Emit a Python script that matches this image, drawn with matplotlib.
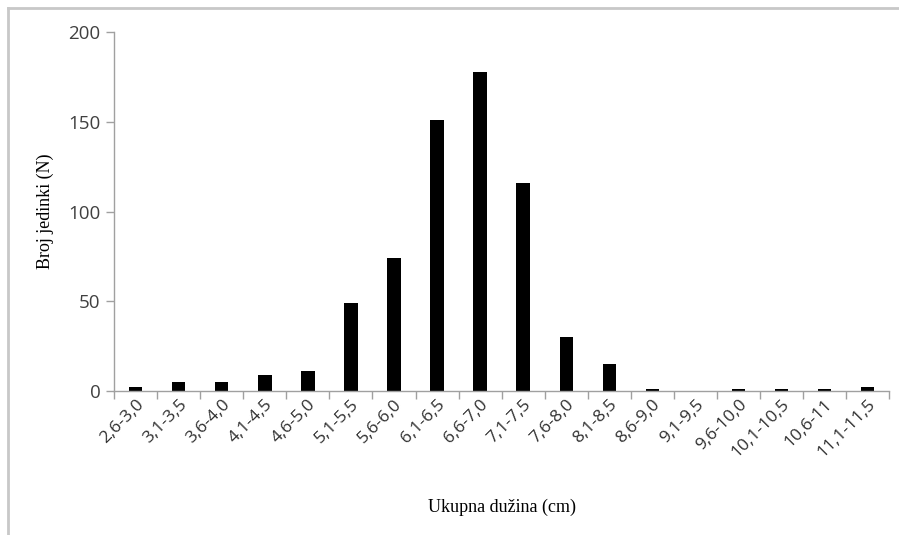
import numpy as np
import matplotlib.pyplot as plt
from matplotlib.lines import Line2D

# data
classes = ["2,6-3,0", "3,1-3,5", "3,6-4,0", "4,1-4,5", "4,6-5,0", "5,1-5,5",
           "5,6-6,0", "6,1-6,5", "6,6-7,0", "7,1-7,5", "7,6-8,0", "8,1-8,5",
           "8,6-9,0", "9,1-9,5", "9,6-10,0", "10,1-10,5", "10,6-11", "11,1-11,5"]
counts = [2, 5, 5, 9, 11, 49, 74, 151, 178, 116, 30, 15, 1, 0, 1, 1, 1, 2]

y_ticks = [0, 50, 100, 150, 200]

fig = plt.figure(figsize=(8.99, 5.35), dpi=100)
ax = fig.add_axes([0.127, 0.269, 0.862, 0.671])

x = np.arange(len(classes))
ax.bar(x, counts, width=0.31, color="black")

ax.set_xlim(-0.5, len(classes) - 0.5)
ax.set_ylim(0, 200)
ax.set_yticks(y_ticks)
ax.set_yticklabels([str(v) for v in y_ticks], fontsize=13.5, color="#404040",
                   family="Open Sans")

# x ticks at category boundaries, labels at centres
ax.set_xticks(np.arange(len(classes) + 1) - 0.5)
ax.set_xticklabels([])
ax.set_xticks(x, minor=True)
ax.set_xticklabels(classes, minor=True, rotation=45, ha="right",
                   rotation_mode="anchor", fontsize=12.5, color="#303030",
                   family="Open Sans")
ax.tick_params(axis="x", which="minor", length=0, pad=4)
ax.tick_params(axis="x", which="major", length=6, color="#a0a0a0", width=1)
ax.tick_params(axis="y", length=6, color="#a0a0a0", width=1, pad=4)

for s in ["top", "right"]:
    ax.spines[s].set_visible(False)
for s in ["left", "bottom"]:
    ax.spines[s].set_color("#a0a0a0")
    ax.spines[s].set_linewidth(1)

ax.set_ylabel("Broj jedinki (N)", family="Liberation Serif", fontsize=13,
              labelpad=10)
ax.set_xlabel("Ukupna dužina (cm)", family="Liberation Serif", fontsize=13,
              labelpad=27)

# outer frame (top and left only, like the cropped screenshot)
fig.add_artist(Line2D([8 / 899, 1], [1 - 8 / 535, 1 - 8 / 535],
                      transform=fig.transFigure, color="#c8c8c8", lw=2))
fig.add_artist(Line2D([8 / 899, 8 / 899], [0, 1 - 8 / 535],
                      transform=fig.transFigure, color="#c8c8c8", lw=2))

fig.savefig("out.png", dpi=100)
